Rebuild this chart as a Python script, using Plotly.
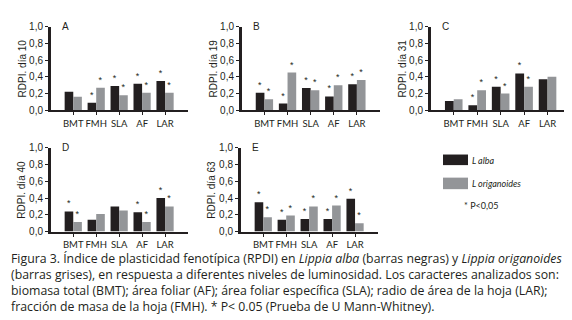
import plotly.graph_objects as go

W, H = 572, 320

categories = ["BMT", "FMH", "SLA", "AF", "LAR"]
panel_letters = ["A", "B", "C", "D", "E"]
y_titles = ["RDPI. día 10", "RDPI. día 19", "RDPI. día 31", "RDPI. día 40", "RDPI. día 63"]

alba_A = [0.22, 0.09, 0.29, 0.315, 0.35]
orig_A = [0.16, 0.27, 0.18, 0.21, 0.21]
alba_B = [0.21, 0.08, 0.265, 0.165, 0.31]
orig_B = [0.13, 0.45, 0.24, 0.30, 0.36]
alba_C = [0.11, 0.06, 0.28, 0.44, 0.37]
orig_C = [0.13, 0.24, 0.20, 0.28, 0.40]
alba_D = [0.24, 0.14, 0.30, 0.23, 0.40]
orig_D = [0.115, 0.21, 0.25, 0.115, 0.30]
alba_E = [0.35, 0.14, 0.15, 0.15, 0.39]
orig_E = [0.17, 0.19, 0.30, 0.31, 0.10]

sig_alba_A = [0, 1, 1, 1, 1]
sig_orig_A = [0, 1, 1, 1, 1]
sig_alba_B = [1, 1, 1, 1, 1]
sig_orig_B = [1, 1, 1, 1, 1]
sig_alba_C = [0, 1, 1, 1, 0]
sig_orig_C = [0, 1, 1, 1, 0]
sig_alba_D = [1, 0, 0, 1, 1]
sig_orig_D = [1, 0, 0, 1, 1]
sig_alba_E = [1, 1, 1, 1, 1]
sig_orig_E = [1, 1, 1, 1, 1]

alba_vals = [alba_A, alba_B, alba_C, alba_D, alba_E]
orig_vals = [orig_A, orig_B, orig_C, orig_D, orig_E]
alba_sig = [sig_alba_A, sig_alba_B, sig_alba_C, sig_alba_D, sig_alba_E]
orig_sig = [sig_orig_A, sig_orig_B, sig_orig_C, sig_orig_D, sig_orig_E]

caption_lines = [
    "Figura 3. Índice de plasticidad fenotípica (RPDI) en <i>Lippia alba</i> (barras negras) y <i>Lippia origanoides</i>",
    "(barras grises), en respuesta a diferentes niveles de luminosidad. Los caracteres analizados son:",
    "biomasa total (BMT); área foliar (AF); área foliar específica (SLA); radio de área de la hoja (LAR);",
    "fracción de masa de la hoja (FMH). * P< 0.05 (Prueba de U Mann-Whitney).",
]

BLACK = "#231f20"
GRAY = "#939598"
AX_FONT = dict(family="Liberation Sans, Arial", size=10, color="#231f20")

# panel boxes in pixels: x_left, x_right, y_top(1.0), y_bottom(0.0)
boxes = [
    (43, 180, 13, 100),
    (234, 372, 13, 100),
    (423, 563, 13, 100),
    (43, 180, 139, 226),
    (233, 370, 139, 226),
]

def px(x):
    return x / W

def py(y):
    return 1 - y / H

fig = go.Figure()
annotations = []
shapes = []

for i in range(5):
    suf = "" if i == 0 else str(i + 1)
    xa, ya = "x" + suf, "y" + suf
    x0, x1, yt, yb = boxes[i]
    for vals, sig, col in ((alba_vals[i], alba_sig[i], BLACK), (orig_vals[i], orig_sig[i], GRAY)):
        fig.add_trace(go.Bar(
            x=list(range(len(categories))), y=vals, marker_color=col, marker_line_width=0,
            text=["*" if s else "" for s in sig], textposition="outside",
            textfont=dict(family="Liberation Sans, Arial", size=9, color="#231f20"),
            cliponaxis=False, xaxis=xa, yaxis=ya, showlegend=False,
        ))
    fig.layout["xaxis" + suf] = dict(
        domain=[px(x0), px(x1)], anchor=ya, range=[-0.97, 5.0],
        tickvals=list(range(len(categories))), ticktext=categories, tickangle=0,
        showline=True, linecolor=BLACK, linewidth=2, ticks="outside", ticklen=3,
        tickcolor=BLACK, tickfont=dict(family="Lato, Liberation Sans", size=9.5, color="#231f20"),
        showgrid=False, zeroline=False, fixedrange=True,
    )
    fig.layout["yaxis" + suf] = dict(
        domain=[py(yb), py(yt)], anchor=xa, range=[0, 1.0],
        tickvals=[0, 0.2, 0.4, 0.6, 0.8, 1.0], tickformat=".1f",
        showline=True, linecolor=BLACK, linewidth=3, ticks="outside", ticklen=3,
        tickcolor=BLACK, tickfont=AX_FONT, showgrid=False, zeroline=False,
    )
    annotations.append(dict(
        x=px(x0 - 29), y=py((yt + yb) / 2), xref="paper", yref="paper",
        text=y_titles[i], textangle=-90, showarrow=False, font=AX_FONT,
        xanchor="center", yanchor="middle",
    ))
    annotations.append(dict(
        x=px(x0 + 9), y=py(yt), xref="paper", yref="paper", text=panel_letters[i],
        showarrow=False, font=AX_FONT, xanchor="left", yanchor="middle",
    ))

# legend
shapes.append(dict(type="rect", xref="paper", yref="paper", x0=px(435), x1=px(460),
                   y0=py(157), y1=py(146), fillcolor=BLACK, line_width=0))
shapes.append(dict(type="rect", xref="paper", yref="paper", x0=px(435), x1=px(460),
                   y0=py(182), y1=py(170), fillcolor=GRAY, line_width=0))
annotations.append(dict(x=px(462), y=py(152), xref="paper", yref="paper", text="<i>L alba</i>",
                        showarrow=False, font=dict(family="Lato", size=9, color="#231f20"),
                        xanchor="left", yanchor="middle"))
annotations.append(dict(x=px(462), y=py(176), xref="paper", yref="paper", text="<i>L origanoides</i>",
                        showarrow=False, font=dict(family="Lato", size=9, color="#231f20"),
                        xanchor="left", yanchor="middle"))
annotations.append(dict(x=px(454), y=py(199), xref="paper", yref="paper", text="* P<0,05",
                        showarrow=False, font=dict(family="Lato", size=9, color="#231f20"),
                        xanchor="left", yanchor="middle"))

annotations.append(dict(x=px(2), y=py(279), xref="paper", yref="paper",
                        text="<br>".join(caption_lines), align="left",
                        showarrow=False, font=dict(family="Open Sans", size=12.3, color="#231f20"),
                        xanchor="left", yanchor="middle", borderpad=0))

fig.update_layout(
    width=W, height=H, margin=dict(l=0, r=0, t=0, b=0),
    paper_bgcolor="white", plot_bgcolor="white",
    barmode="group", bargap=0.25, bargroupgap=0,
    separators=",.", annotations=annotations, shapes=shapes,
    uniformtext=dict(minsize=8, mode="show"),
)

fig.write_html("out.html")
